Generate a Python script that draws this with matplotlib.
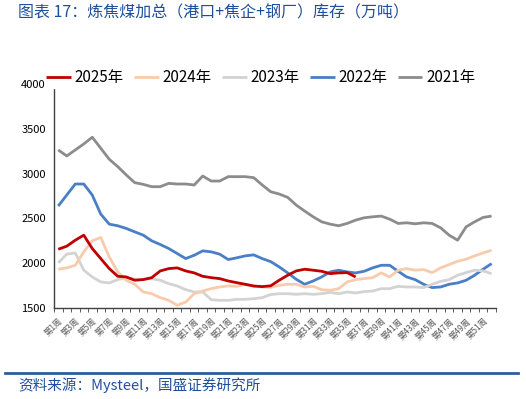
import numpy as np
import matplotlib.pyplot as plt
from matplotlib.transforms import ScaledTranslation

plt.rcParams['font.family'] = ['Noto Sans CJK SC', 'DejaVu Sans']

weeks = np.arange(1, 53)
week_labels = ['第%d周' % w for w in weeks]

y2025 = [2156, 2190, 2257, 2313, 2164, 2052, 1940, 1854, 1847, 1810, 1817, 1839, 1914, 1940,
         1948, 1914, 1892, 1854, 1839, 1828, 1802, 1783, 1765, 1746, 1739, 1748, 1810, 1866,
         1914, 1933, 1922, 1910, 1884, 1892, 1895, 1847]
y2024 = [1933, 1948, 1977, 2127, 2250, 2287, 2071, 1903, 1810, 1765, 1679, 1660, 1616, 1586,
         1530, 1567, 1660, 1690, 1716, 1735, 1746, 1742, 1765, 1742, 1735, 1730, 1754, 1765,
         1765, 1735, 1742, 1705, 1698, 1716, 1791, 1817, 1828, 1839, 1892, 1847, 1922, 1940,
         1922, 1929, 1895, 1948, 1985, 2022, 2045, 2082, 2115, 2145]
y2023 = [2004, 2101, 2115, 1922, 1847, 1791, 1780, 1817, 1839, 1821, 1821, 1828, 1810, 1772,
         1746, 1705, 1679, 1679, 1593, 1586, 1586, 1597, 1597, 1604, 1616, 1650, 1660, 1660,
         1653, 1660, 1653, 1660, 1675, 1660, 1679, 1668, 1683, 1690, 1716, 1716, 1742, 1735,
         1735, 1728, 1765, 1798, 1817, 1866, 1895, 1922, 1914, 1884]
y2022 = [2638, 2761, 2884, 2884, 2761, 2548, 2436, 2418, 2388, 2350, 2313, 2250, 2209, 2164,
         2108, 2052, 2089, 2138, 2127, 2101, 2041, 2060, 2082, 2093, 2052, 2018, 1959, 1892,
         1821, 1765, 1802, 1847, 1903, 1922, 1903, 1892, 1910, 1948, 1977, 1977, 1910, 1847,
         1817, 1765, 1728, 1735, 1765, 1780, 1810, 1866, 1933, 1996]
y2021 = [3264, 3197, 3264, 3331, 3406, 3283, 3160, 3078, 2985, 2899, 2880, 2854, 2854, 2891,
         2884, 2884, 2873, 2973, 2917, 2917, 2966, 2966, 2966, 2955, 2873, 2798, 2772, 2735,
         2649, 2582, 2518, 2462, 2436, 2418, 2444, 2481, 2507, 2518, 2526, 2492, 2444, 2451,
         2440, 2451, 2444, 2395, 2313, 2257, 2406, 2462, 2511, 2526]

series = [('2025年', y2025, '#C00000'),
          ('2024年', y2024, '#F8CBAD'),
          ('2023年', y2023, '#D3D3D3'),
          ('2022年', y2022, '#4A7FC8'),
          ('2021年', y2021, '#8C8C8C')]

fig = plt.figure(figsize=(5.26, 3.99), dpi=100)
ax = fig.add_axes([0.1027, 0.228, 0.840, 0.5615])

# draw older years first so 2025 sits on top
for name, vals, col in series[::-1]:
    ax.plot(weeks[:len(vals)], vals, color=col, lw=2.0, label=name, solid_capstyle='butt')

ax.set_xlim(0.5, 52.5)
ax.set_ylim(1500, 4000)
ax.set_yticks([1500, 2000, 2500, 3000, 3500, 4000])
ax.tick_params(axis='y', length=0, labelsize=8, pad=6)
ax.set_xticks(weeks[::2])
ax.set_xticklabels(week_labels[::2], rotation=45, ha='right', rotation_mode='anchor',
                   fontsize=6, color='#595959')
# nudge labels a little right, like the original
offset = ScaledTranslation(5 / 100, 0, fig.dpi_scale_trans)
for lbl in ax.get_xticklabels():
    lbl.set_transform(lbl.get_transform() + offset)
ax.set_xticks(np.arange(0.5, 53, 1), minor=True)
ax.tick_params(axis='x', which='major', length=0, pad=6)
ax.tick_params(axis='x', which='minor', length=3, direction='out', color='#404040')
for s in ['top', 'right']:
    ax.spines[s].set_visible(False)
for s in ['left', 'bottom']:
    ax.spines[s].set_color('#404040')
    ax.spines[s].set_linewidth(1.0)

handles, labels = ax.get_legend_handles_labels()
leg = fig.legend(handles[::-1], labels[::-1], ncol=5, loc='center left',
                 bbox_to_anchor=(0.085, 0.805), frameon=True, fontsize=11,
                 handlelength=1.6, handletextpad=0.25, columnspacing=0.7,
                 borderpad=0.1, borderaxespad=0)
leg.get_frame().set_edgecolor('white')
leg.get_frame().set_facecolor('white')
leg.get_frame().set_alpha(1)

blue = '#1F4E9A'
fig.text(0.035, 0.968, '图表 17：炼焦煤加总（港口+焦企+钢厂）库存（万吨）', color=blue,
         fontsize=11.5, style='italic', va='center', ha='left')
fig.add_artist(plt.Line2D([0.01, 0.985], [0.066, 0.066], color='#2F5C9E', lw=2))
fig.text(0.035, 0.035, '资料来源：Mysteel，国盛证券研究所', color=blue,
         fontsize=10.5, style='italic', va='center', ha='left')

fig.savefig('out.png', dpi=100)
